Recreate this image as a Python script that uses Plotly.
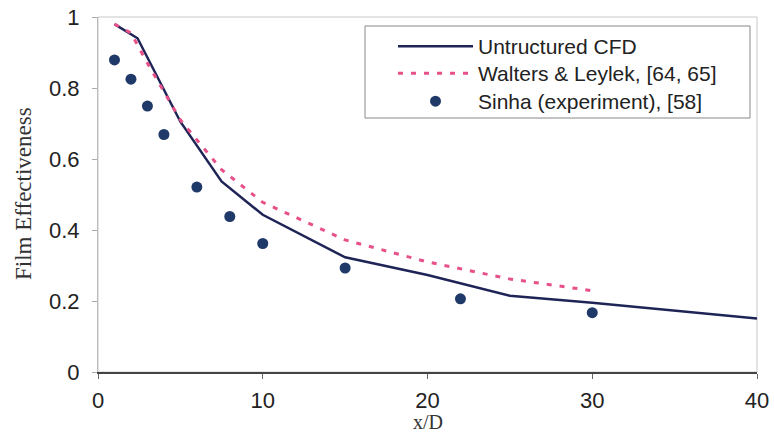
import plotly.graph_objects as go

# Unstructured CFD prediction
cfd_x = [1, 2.4, 5, 7.5, 10, 15, 20, 25, 30, 40]
cfd_y = [0.98, 0.94, 0.705, 0.537, 0.443, 0.323, 0.273, 0.215, 0.195, 0.151]

# Walters & Leylek results
wl_x = [1, 2, 3, 4, 5, 7.5, 10, 15, 20, 25, 30]
wl_y = [0.98, 0.955, 0.87, 0.79, 0.71, 0.57, 0.478, 0.372, 0.31, 0.262, 0.229]

# Sinha experimental data
exp_x = [1, 2, 3, 4, 6, 8, 10, 15, 22, 30]
exp_y = [0.879, 0.825, 0.749, 0.669, 0.521, 0.438, 0.362, 0.293, 0.206, 0.167]

x_ticks = [0, 10, 20, 30, 40]
y_ticks = [0, 0.2, 0.4, 0.6, 0.8, 1]
y_tick_text = ["0", "0.2", "0.4", "0.6", "0.8", "1"]

W, H = 774, 435
ML, MR, MT, MB = 98, 17, 17, 63
PW, PH = W - ML - MR, H - MT - MB


def px_x(p):
    return (p - ML) / PW


def px_y(p):
    return (H - MB - p) / PH


def legend_row(top_px):
    # one single-entry legend per row so the row pitch can be set freely
    return dict(
        x=px_x(393), y=px_y(top_px), xanchor="left", yanchor="top",
        bgcolor="rgba(0,0,0,0)", borderwidth=0,
        font=dict(size=21, color="#222"), itemwidth=75,
    )


fig = go.Figure()
fig.add_trace(go.Scatter(
    x=cfd_x, y=cfd_y, mode="lines", name="Untructured CFD",
    line=dict(color="#1e2456", width=2.5), legend="legend",
))
fig.add_trace(go.Scatter(
    x=wl_x, y=wl_y, mode="lines", name="Walters & Leylek, [64, 65]",
    line=dict(color="#e8508a", width=3, dash="5px,8px"), legend="legend2",
))
fig.add_trace(go.Scatter(
    x=exp_x, y=exp_y, mode="markers", name="Sinha (experiment), [58]",
    marker=dict(color="#1f3a68", size=11), legend="legend3",
))

fig.update_layout(
    width=W, height=H,
    margin=dict(l=ML, r=MR, t=MT, b=MB),
    paper_bgcolor="white", plot_bgcolor="white",
    font=dict(family="Liberation Sans, Arial, sans-serif", size=22, color="#222"),
    showlegend=True,
    legend=legend_row(26),
    legend2=legend_row(53),
    legend3=legend_row(81),
    shapes=[
        dict(type="rect", xref="paper", yref="paper", x0=0, y0=0, x1=1, y1=1,
             line=dict(color="#c8c8c8", width=1), layer="below"),
        # legend frame
        dict(type="rect", xref="paper", yref="paper",
             x0=px_x(365), x1=px_x(750), y0=px_y(118), y1=px_y(26),
             line=dict(color="#888", width=1), fillcolor="white", layer="above"),
    ],
    annotations=[
        dict(text="Film Effectiveness", xref="paper", yref="paper", x=px_x(23), y=px_y(194),
             xanchor="center", yanchor="middle", textangle=-90, showarrow=False,
             font=dict(family="Liberation Serif, Times New Roman, serif", size=23, color="#333")),
        dict(text="x/D", xref="paper", yref="paper", x=0.5, y=px_y(435),
             xanchor="center", yanchor="bottom", showarrow=False,
             font=dict(family="Liberation Serif, Times New Roman, serif", size=20, color="#333")),
    ],
)
fig.update_xaxes(
    range=[0, 40], tickvals=x_ticks, showgrid=False, zeroline=False,
    showline=True, linecolor="#444", linewidth=1.5, automargin=False,
    ticks="outside", ticklen=5, tickcolor="#666", ticklabelstandoff=3,
)
fig.update_yaxes(
    range=[0, 1], tickvals=y_ticks, ticktext=y_tick_text, showgrid=False, zeroline=False,
    showline=True, linecolor="#bbb", linewidth=1, automargin=False,
    ticks="outside", ticklen=5, tickcolor="#aaa", ticklabelstandoff=8,
)

fig.write_html("out.html")
